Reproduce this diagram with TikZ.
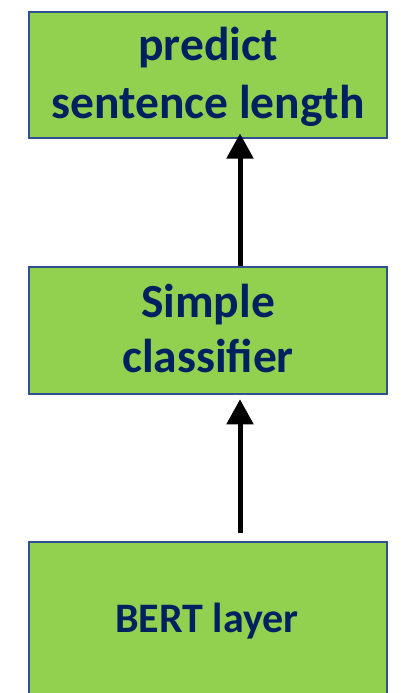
\documentclass[tikz,border=0pt]{standalone}
\usepackage{fontspec}
\setmainfont{Carlito}
\usetikzlibrary{arrows.meta}
\definecolor{boxgreen}{HTML}{92D050}
\definecolor{boxedge}{HTML}{2F528F}
\definecolor{labelnavy}{HTML}{002060}
\tikzset{
  stage/.style={rectangle, draw=boxedge, line width=2.5pt, fill=boxgreen,
    minimum width=358pt, inner sep=0pt},
  caption/.style={text=labelnavy, align=center, inner sep=0pt,
    font=\fontsize{47.5}{55}\selectfont\bfseries},
  smallcaption/.style={caption, font=\fontsize{42}{50}\selectfont\bfseries},
  flow/.style={line width=5pt, draw=black,
    -{Triangle[width=26pt,length=25pt]}}
}
\begin{document}
\begin{tikzpicture}[x=1pt,y=-1pt]
  \useasboundingbox (0,0) rectangle (400,693);
  % three stacked stages
  \node[stage, minimum height=125.5pt] (pred) at (208,75) {};
  \node[stage, minimum height=127pt] (clf) at (208,330.5) {};
  \node[stage, minimum height=152pt] (bert) at (208,618) {};
  % stage labels, placed by baseline
  \node[caption, anchor=base] (predtxt) at (208,61) {predict};
  \node[caption, anchor=base] (predtxt2) at (208,118) {sentence length};
  \node[caption, anchor=base] (clftxt) at (208,317) {Simple};
  \node[caption, anchor=base] (clftxt2) at (208,372) {classifier};
  \node[smallcaption, anchor=base] (berttxt) at (207,632) {BERT layer};
  % upward flow between stages
  \draw[flow] ([xshift=32pt]clf.north) -- ([xshift=32pt,yshift=5.5pt]pred.south);
  \draw[flow] ([xshift=32pt,yshift=8pt]bert.north) -- ([xshift=32pt,yshift=-4pt]clf.south);
\end{tikzpicture}
\end{document}
